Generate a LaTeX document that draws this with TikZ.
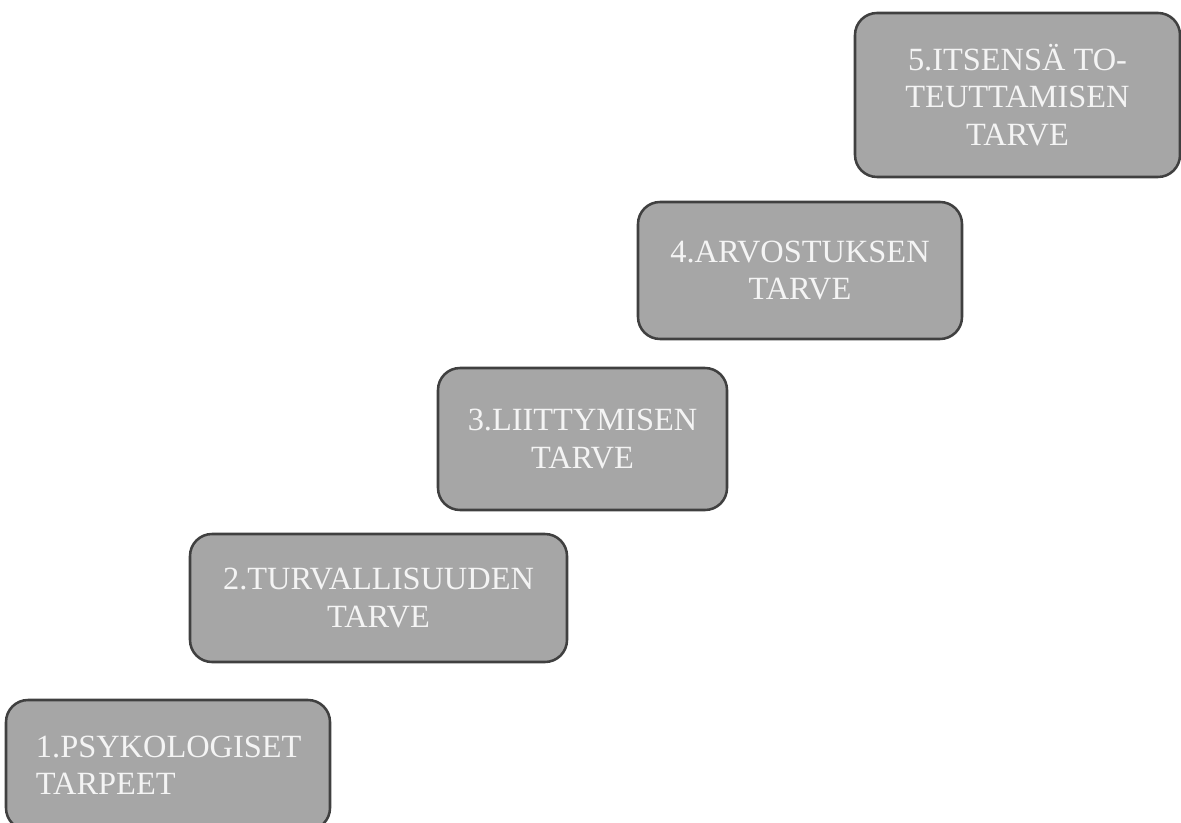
\documentclass[tikz,border=0pt]{standalone}
\usepackage{fontspec}
\setmainfont{Liberation Serif}
\definecolor{boxfill}{HTML}{A6A6A6}
\definecolor{boxline}{HTML}{404040}
\definecolor{boxtext}{HTML}{F4F4F4}
\tikzset{
  stair/.style={draw=boxline, fill=boxfill, line width=1.9pt, rounded corners=16.5pt,
    text=boxtext, align=center, inner sep=0pt,
    font={\fontsize{24.3}{28}\selectfont}},
}
\begin{document}
\begin{tikzpicture}[x=0.75pt,y=-0.75pt]
\useasboundingbox (0,0) rectangle (1181,823);
\clip (0,0) rectangle (1181,823);
\node[stair, align=left, text width=198pt, inner xsep=22.5pt, minimum width=243pt, minimum height=97.5pt] (b1) at (168,765) {1.PSYKOLOGISET\\TARPEET};
\node[stair, minimum width=282.75pt, minimum height=96pt] (b2) at (378.5,598) {2.TURVALLISUUDEN\\TARVE};
\node[stair, minimum width=216.75pt, minimum height=106.5pt] (b3) at (582.5,439) {3.LIITTYMISEN\\TARVE};
\node[stair, minimum width=243pt, minimum height=102.75pt] (b4) at (800,270.5) {4.ARVOSTUKSEN\\TARVE};
\node[stair, minimum width=243.75pt, minimum height=123pt] (b5) at (1017.5,95) {5.ITSENSÄ TO-\\TEUTTAMISEN\\TARVE};
\end{tikzpicture}
\end{document}
